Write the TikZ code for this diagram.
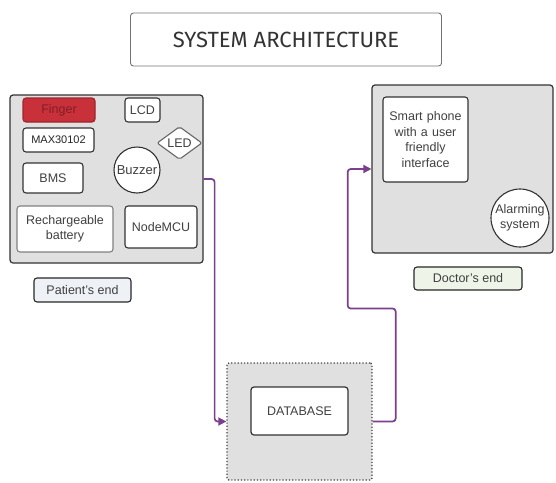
\documentclass[tikz,border=0pt]{standalone}
\usepackage{fontspec}
\setmainfont{Liberation Sans}
\newfontfamily\titlefont{Fira Sans}
\usepackage{xcolor}
\definecolor{linkpurple}{HTML}{7B3F8E}
\definecolor{fingerred}{HTML}{C8303A}
\definecolor{patientfill}{HTML}{EEF2F6}
\definecolor{doctorfill}{HTML}{EEF5E8}
\usetikzlibrary{arrows.meta, shapes.geometric, positioning, calc}

\begin{document}
\begin{tikzpicture}[
  x=1pt, y=-1pt,
  panel/.style={draw=black!80, fill=black!12, rounded corners=3pt,
    line width=1.2pt, inner sep=0pt},
  part/.style={draw=black!80, fill=white, rounded corners=3pt, line width=1.1pt,
    font=\fontsize{12.5}{15.5}\selectfont, text=black!75, align=center, inner sep=1pt},
  tag/.style={draw=black!85, fill=#1, rounded corners=3pt, line width=1.1pt,
    font=\fontsize{12.5}{15}\selectfont, text=black!75, inner sep=0pt},
  link/.style={draw=linkpurple, line width=1.7pt, rounded corners=3pt,
    -{Triangle[length=8pt, width=8pt]}}
]
  \useasboundingbox (0,0) rectangle (556,482);

  \node[draw=black!55, rounded corners=3pt, line width=0.9pt,
    minimum width=311pt, minimum height=53pt,
    font=\titlefont\fontsize{22}{26}\selectfont, text=black!80] (title) at (286,39.5)
    {SYSTEM ARCHITECTURE};

  % patient side
  \node[panel, minimum width=193pt, minimum height=168pt] (patient) at (106.5,179) {};
  \node[part, fill=fingerred, draw=fingerred!80!black, text=fingerred!65!black,
    minimum width=72pt, minimum height=24pt] (finger) at (59,110) {Finger};
  \node[part, minimum width=35pt, minimum height=24pt] (lcd) at (142.5,110) {LCD};
  \node[part, font=\fontsize{11}{13}\selectfont, text=black!85,
    minimum width=71pt, minimum height=24pt] (max) at (58.5,140) {MAX30102};
  \node[part, diamond, rounded corners=2pt, inner sep=0pt, draw=black!60,
    minimum width=45pt, minimum height=28pt] (led) at (179.5,143) {LED};
  \node[part, circle, inner sep=0pt, minimum size=46pt,
    font=\fontsize{13}{15}\selectfont] (buzzer) at (137,170) {Buzzer};
  \node[part, minimum width=60pt, minimum height=30pt] (bms) at (53,178) {BMS};
  \node[part, draw=black!50, minimum width=96pt, minimum height=46pt] (battery)
    at (65,229) {Rechargeable\\battery};
  \node[part, minimum width=72pt, minimum height=42pt] (nodemcu) at (161,227) {NodeMCU};
  \node[tag=patientfill, minimum width=97pt, minimum height=24pt] (patientend)
    at (82.5,290) {Patient's end};

  % doctor side
  \node[panel, minimum width=181pt, minimum height=168pt] (doctor) at (462.5,169) {};
  \node[part, minimum width=85pt, minimum height=85pt, text width=80pt] (phone)
    at (425.5,139.5) {Smart phone\\with a user\\friendly\\interface};
  \node[part, circle, inner sep=0pt, minimum size=58pt] (alarm) at (520,218)
    {Alarming\\system};
  \node[tag=doctorfill, minimum width=108pt, minimum height=23pt] (doctorend)
    at (468,278.5) {Doctor's end};

  % database
  \node[panel, draw=black!75, dotted, line width=1.3pt, rounded corners=2pt,
    minimum width=145pt, minimum height=117pt] (dbwrap) at (299.5,421.5) {};
  \node[part, line width=1.2pt, minimum width=97pt, minimum height=48pt] (database)
    at (299.5,411) {DATABASE};

  \draw[link] (patient.east) -- ++(11,0) |- (dbwrap.west);
  \draw[link] (dbwrap.east) -- ++(23,0) -- ++(0,-113) -- ++(-48,0) |- (doctor.west);
\end{tikzpicture}
\end{document}
